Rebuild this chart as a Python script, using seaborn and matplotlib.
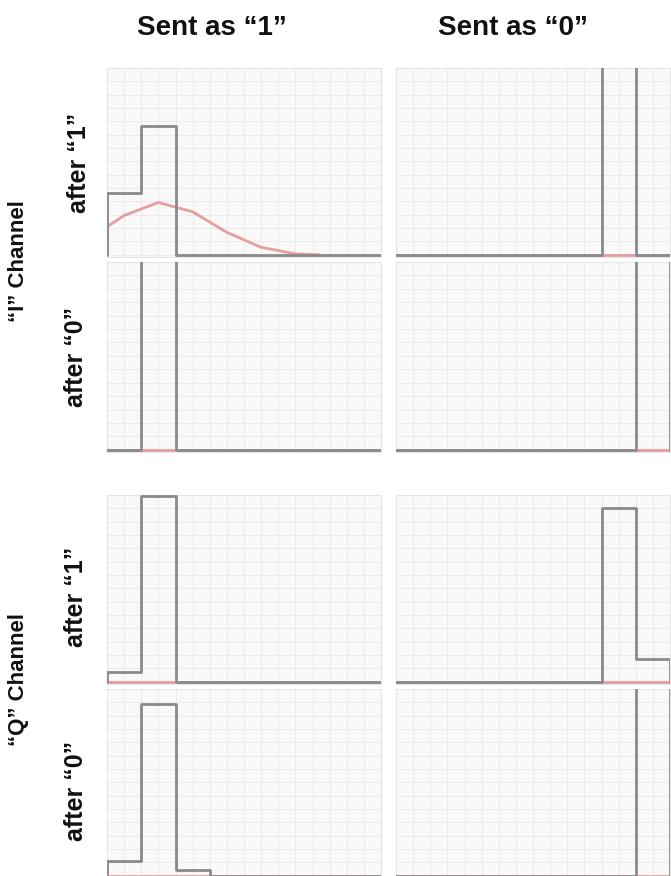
import pandas as pd
import matplotlib
matplotlib.use("Agg")
import matplotlib.pyplot as plt
import seaborn as sns
from matplotlib.ticker import MultipleLocator

# 8 bins per panel; heights as a fraction of the panel height (>1 runs off the top)
col_titles = ["Sent as \u201c1\u201d", "Sent as \u201c0\u201d"]
row_labels = ["after \u201c1\u201d", "after \u201c0\u201d", "after \u201c1\u201d", "after \u201c0\u201d"]
channel_labels = ["\u201cI\u201d Channel", "\u201cQ\u201d Channel"]

i_after1_sent1 = [0.33, 0.69, 0, 0, 0, 0, 0, 0]
i_after1_sent0 = [0, 0, 0, 0, 0, 0, 1.5, 0]
i_after0_sent1 = [0, 1.5, 0, 0, 0, 0, 0, 0]
i_after0_sent0 = [0, 0, 0, 0, 0, 0, 0, 1.5]
q_after1_sent1 = [0.05, 0.995, 0, 0, 0, 0, 0, 0]
q_after1_sent0 = [0, 0, 0, 0, 0, 0, 0.93, 0.12]
q_after0_sent1 = [0.08, 0.92, 0.03, 0, 0, 0, 0, 0]
q_after0_sent0 = [0, 0, 0, 0, 0, 0, 0, 1.5]

# red reference curve
curve_x = [0, 0.5, 1.5, 2.5, 3.5, 4.5, 5.5, 6.2]
curve_i_after1_sent1 = [0.15, 0.21, 0.28, 0.23, 0.12, 0.04, 0.005, 0]
flat_x = [0, 8]
flat_y = [0, 0]

panels = [
    [(i_after1_sent1, curve_x, curve_i_after1_sent1), (i_after1_sent0, flat_x, flat_y)],
    [(i_after0_sent1, flat_x, flat_y), (i_after0_sent0, flat_x, flat_y)],
    [(q_after1_sent1, flat_x, flat_y), (q_after1_sent0, flat_x, flat_y)],
    [(q_after0_sent1, flat_x, flat_y), (q_after0_sent0, flat_x, flat_y)],
]

sns.set_style("whitegrid", {"axes.facecolor": "#f9f9f9", "grid.color": "#ebebeb",
                            "axes.edgecolor": "#e6e6e6"})
plt.rcParams["font.family"] = ["Liberation Sans", "DejaVu Sans"]

W, H = 671, 876
fig = plt.figure(figsize=(W / 100, H / 100), dpi=100)

col_x = [107, 396]
row_y = [(68, 257), (262, 452), (495, 684), (689, 878)]
pw = 274

grey = "#8a8a8a"
red = "#e49494"

for r, (top, bot) in enumerate(row_y):
    for c in range(2):
        ax = fig.add_axes([col_x[c] / W, (H - bot) / H, pw / W, (bot - top) / H])
        vals, cx, cy = panels[r][c]
        # pad with empty bins so the step closes at both edges
        pad_edges = list(range(-1, 10))
        df = pd.DataFrame({"center": [e + 0.5 for e in pad_edges[:-1]],
                           "height": [0] + list(vals) + [0]})
        curve = pd.DataFrame({"x": cx, "y": cy})
        sns.lineplot(data=curve, x="x", y="y", color=red, lw=2, alpha=0.9,
                     ax=ax, zorder=2)
        sns.histplot(data=df, x="center", weights="height", bins=pad_edges,
                     element="step", fill=False, color=grey, lw=2, ax=ax, zorder=3)
        ax.set_xlim(0, 8)
        ax.set_ylim(-0.012, 1.0)
        ax.xaxis.set_major_locator(MultipleLocator(0.5))
        ax.yaxis.set_major_locator(MultipleLocator(1 / 14))
        ax.grid(True, lw=0.8)
        ax.tick_params(length=0, labelleft=False, labelbottom=False)
        ax.set_xlabel("")
        ax.set_ylabel("")
        for s in ax.spines.values():
            s.set_linewidth(0.8)

for x, lab in zip([212, 513], col_titles):
    fig.text(x / W, 1 - 35 / H, lab, ha="center", va="baseline",
             fontsize=20, fontweight="bold", color="#111111")

row_centers = [(79, 163), (76, 357), (76, 597), (76, 791)]
for (x, y), lab in zip(row_centers, row_labels):
    fig.text(x / W, 1 - y / H, lab, rotation=90, ha="center", va="center",
             fontsize=18, fontweight="bold", color="#111111")

for y, lab in zip([261, 680], channel_labels):
    fig.text(19 / W, 1 - y / H, lab, rotation=90, ha="center", va="center",
             fontsize=16, fontweight="bold", color="#111111")

fig.savefig("out.png", dpi=100, facecolor="white")
